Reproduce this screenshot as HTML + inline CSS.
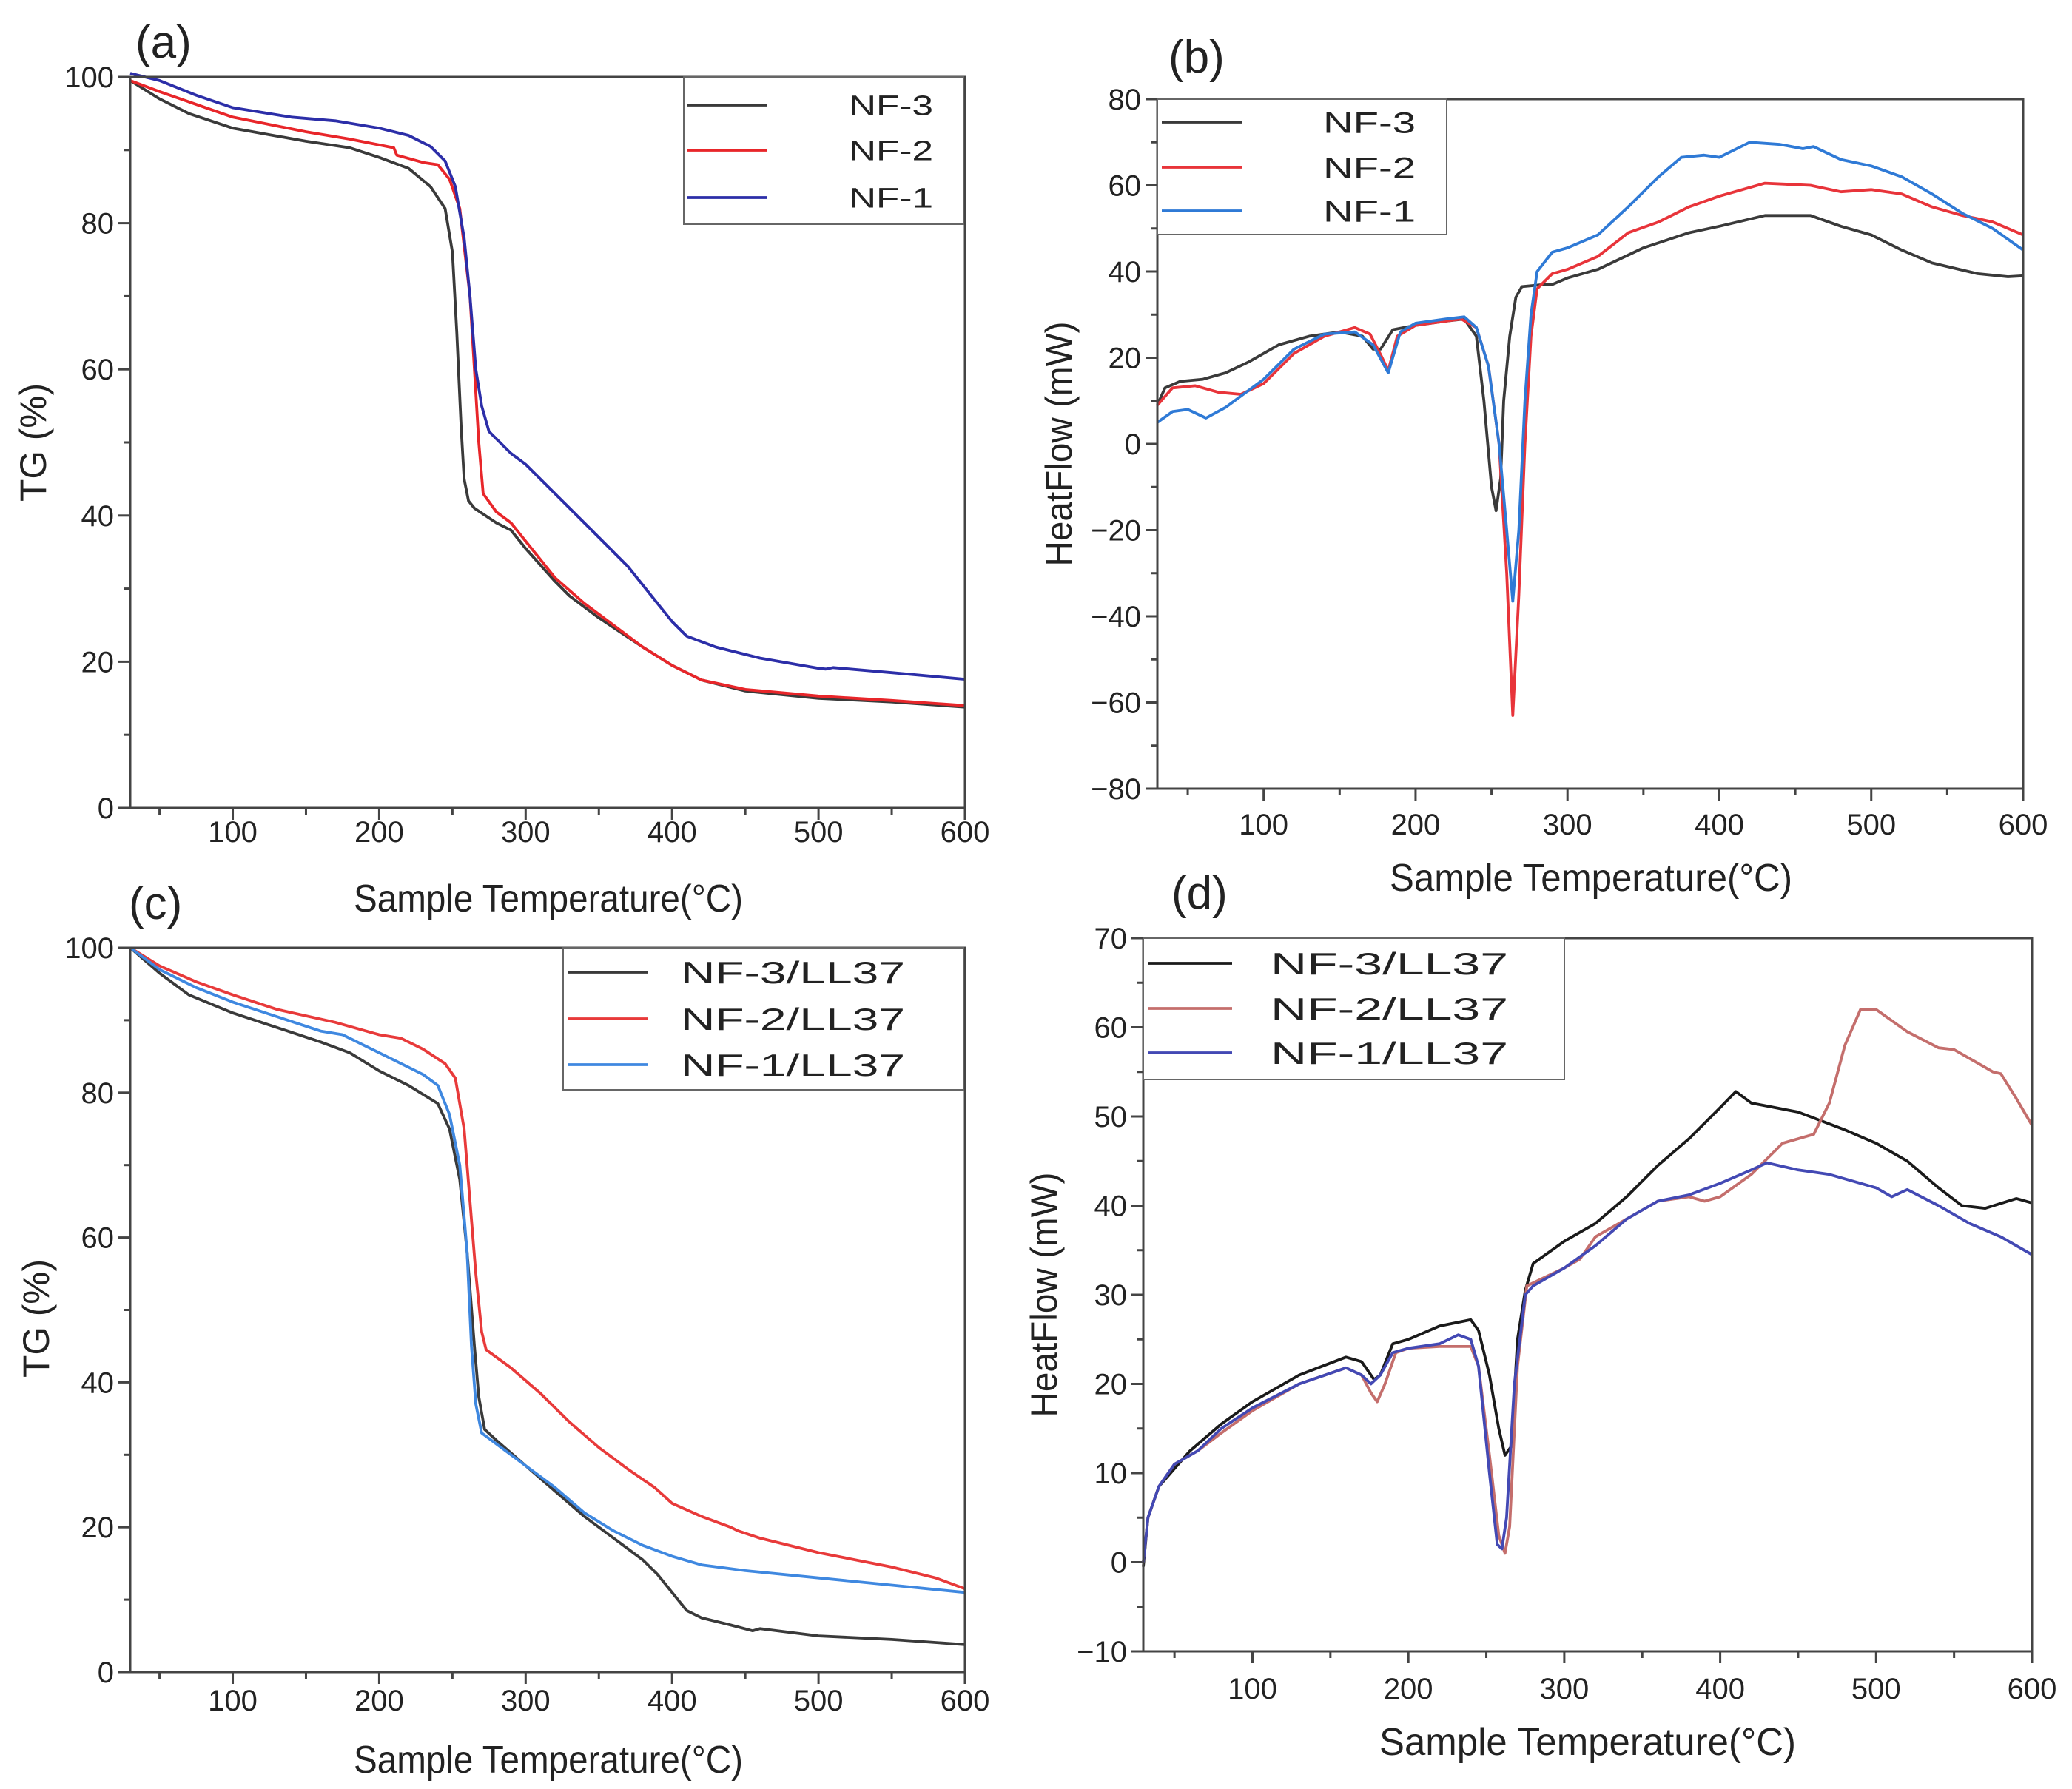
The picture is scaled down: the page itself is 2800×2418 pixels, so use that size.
<!DOCTYPE html>
<html><head><meta charset="utf-8"><style>
html,body{margin:0;padding:0;background:#fff;}
svg{display:block;}
text{font-family:"Liberation Sans",Arial,sans-serif;fill:#222;}
</style></head><body>
<svg id="fig" width="2800" height="2418" viewBox="0 0 2800 2418" xmlns="http://www.w3.org/2000/svg"></svg>
<script>
// ---------- data: panel (a) TG ----------
const a_nf3 = [[30,99.5],[50,97],[70,95],[100,93],[150,91.2],[180,90.3],[200,89],[220,87.5],[235,85],[245,82],[250,76],[253,65],[256,52],[258,45],[261,42],[265,41],[280,39],[290,38],[300,35.5],[320,31],[330,29],[350,26],[380,22],[400,19.5],[420,17.5],[450,16],[500,15],[550,14.5],[600,13.8]];
const a_nf2 = [[30,99.5],[50,98],[100,94.5],[150,92.5],[180,91.5],[210,90.3],[212,89.3],[230,88.3],[240,88],[248,86],[255,82],[262,70],[265,60],[268,50],[271,43],[280,40.5],[290,39],[300,36.5],[310,34],[320,31.5],[340,28],[360,25],[380,22],[400,19.5],[420,17.5],[450,16.2],[500,15.3],[550,14.7],[600,14]];
const a_nf1 = [[30,100.5],[50,99.5],[75,97.5],[100,95.8],[140,94.5],[170,94],[200,93],[220,92],[235,90.5],[245,88.5],[252,85],[258,78],[262,70],[266,60],[270,55],[275,51.5],[290,48.5],[300,47],[310,45],[330,41],[350,37],[370,33],[390,28],[400,25.5],[410,23.5],[430,22],[460,20.5],[500,19.1],[505,19],[510,19.2],[550,18.5],[600,17.6]];
// ---------- data: panel (b) DSC ----------
const b_nf3 = [[30,9],[35,13],[45,14.5],[60,15],[75,16.5],[90,19],[110,23],[130,25],[150,26],[165,25],[172,22],[177,22],[185,26.5],[200,27.5],[220,28.5],[232,29],[240,25],[245,10],[250,-10],[253,-15.5],[256,-8],[258,10],[262,25],[266,34],[270,36.5],[285,37],[290,37],[300,38.5],[320,40.5],[350,45.5],[380,49],[400,50.5],[430,53],[460,53],[480,50.5],[500,48.5],[520,45],[540,42],[570,39.5],[590,38.8],[600,39]];
const b_nf2 = [[30,9],[40,13],[55,13.5],[70,12],[85,11.5],[100,14],[120,21],[140,25],[160,27],[170,25.5],[178,20],[182,17],[188,25],[200,27.5],[220,28.5],[230,29],[240,27],[248,18],[255,0],[260,-30],[264,-63],[268,-35],[272,0],[276,25],[280,36],[290,39.5],[300,40.5],[320,43.5],[340,49],[360,51.5],[380,55],[400,57.5],[430,60.5],[460,60],[480,58.5],[500,59],[520,58],[540,55],[560,53],[580,51.5],[600,48.5]];
const b_nf1 = [[30,5],[40,7.5],[50,8],[62,6],[75,8.5],[100,15],[120,22],[140,25.5],[160,26],[172,23],[182,16.5],[190,26],[200,28],[220,29],[232,29.5],[240,27],[248,18],[255,0],[260,-20],[264,-36.5],[268,-20],[272,10],[276,30],[280,40],[290,44.5],[300,45.5],[320,48.5],[340,55],[360,62],[375,66.5],[390,67],[400,66.5],[420,70],[440,69.5],[455,68.5],[462,69],[480,66],[500,64.5],[520,62],[540,58],[560,53.5],[580,50],[600,45]];
// ---------- data: panel (c) TG with LL37 ----------
const c_nf3 = [[30,100],[50,96.5],[70,93.5],[100,91],[130,89],[160,87],[180,85.5],[200,83],[220,81],[240,78.5],[248,75],[255,68],[260,58],[265,45],[268,38],[272,33.5],[280,32],[300,28.5],[320,25],[340,21.5],[360,18.5],[380,15.5],[390,13.5],[400,11],[410,8.5],[420,7.5],[440,6.5],[455,5.7],[460,6],[500,5],[550,4.5],[600,3.8]];
const c_nf2 = [[30,100],[50,97.5],[75,95.3],[100,93.5],[130,91.5],[170,89.7],[200,88],[215,87.5],[230,86],[245,84],[252,82],[258,75],[262,65],[266,55],[270,47],[273,44.5],[290,42],[310,38.5],[330,34.5],[350,31],[370,28],[388,25.5],[400,23.3],[420,21.5],[440,20],[445,19.5],[460,18.5],[500,16.5],[550,14.5],[580,13],[600,11.5]];
const c_nf1 = [[30,100],[50,97],[75,94.5],[100,92.5],[130,90.5],[160,88.5],[175,88],[190,86.5],[210,84.5],[230,82.5],[240,81],[248,77],[255,70],[260,58],[263,45],[266,37],[270,33],[280,31.5],[300,28.5],[320,25.5],[340,22],[360,19.5],[380,17.5],[400,16],[420,14.8],[450,14],[500,13],[550,12],[600,11]];
// ---------- data: panel (d) DSC with LL37 ----------
const d_nf3 = [[30,-0.5],[33,5],[40,8.5],[50,10.5],[60,12.5],[80,15.5],[100,18],[130,21],[160,23],[170,22.5],[178,20.5],[182,21],[190,24.5],[200,25],[220,26.5],[240,27.2],[245,26],[252,21],[258,15],[262,12],[266,13],[270,25],[275,30.5],[280,33.5],[300,36],[320,38],[340,41],[360,44.5],[380,47.5],[400,51],[410,52.8],[420,51.5],[450,50.5],[480,48.5],[500,47],[520,45],[540,42],[555,40],[570,39.7],[590,40.8],[600,40.3]];
const d_nf2 = [[30,0],[33,5],[40,8.5],[50,11],[65,12.5],[80,14.5],[100,17],[130,20],[160,21.8],[170,21],[176,19],[180,18],[185,20],[192,23.5],[200,24],[220,24.2],[240,24.2],[245,22],[252,12],[258,3],[262,1],[265,4],[270,22],[276,31],[300,33],[310,34],[320,36.5],[335,38],[360,40.5],[380,41],[390,40.5],[400,41],[420,43.5],[440,47],[460,48],[470,51.5],[480,58],[490,62],[500,62],[520,59.5],[540,57.7],[550,57.5],[560,56.5],[575,55],[580,54.8],[590,52],[600,49]];
const d_nf1 = [[30,0],[33,5],[40,8.5],[50,11],[65,12.5],[80,15],[100,17.3],[130,20],[160,21.8],[170,21],[176,20],[182,21],[190,23.5],[200,24],[220,24.5],[232,25.5],[240,25],[245,22],[252,10],[257,2],[260,1.5],[263,5],[268,20],[275,30],[280,31],[300,33],[320,35.5],[340,38.5],[360,40.5],[380,41.2],[400,42.5],[420,44],[430,44.8],[450,44],[470,43.5],[500,42],[510,41],[520,41.8],[540,40],[560,38],[580,36.5],[600,34.5]];
// tick labels
const xTicks = [100,200,300,400,500,600];
const tgTicks = [0,20,40,60,80,100];
const bTicks = [-80,-60,-40,-20,0,20,40,60,80];
const dTicks = [-10,0,10,20,30,40,50,60,70];
const aNames = ["NF-3","NF-2","NF-1"];
const cNames = ["NF-3/LL37","NF-2/LL37","NF-1/LL37"];

const NS="http://www.w3.org/2000/svg";
const svg=document.getElementById('fig');
function mk(tag,attrs,parent){const e=document.createElementNS(NS,tag);for(const k in attrs)e.setAttribute(k,attrs[k]);(parent||svg).appendChild(e);return e;}

function panel(p){
  const g=mk('g',{});
  
  
  const X=v=>p.L+(v-30)/(600-30)*(p.R-p.L);
  const Y=v=>p.B-(v-p.ymin)/(p.ymax-p.ymin)*(p.B-p.T);
  for(let v=50;v<=600;v+=50){
    const major=v%100===0;
    const t=mk('line',{x1:X(v),x2:X(v),y1:p.B,y2:p.B+(major?16:9),stroke:'#444','stroke-width':3},g);
    
    
  }
  xTicks.forEach(v=>{
    const t=mk('text',{x:X(v),y:p.xlabY,'text-anchor':'middle','font-size':40},g);
    t.textContent=v;
    
    
  });
  const step=p.yt[1]-p.yt[0];
  for(let v=p.ymin;v<=p.ymax+1e-9;v+=step/2){
    const major=Math.abs(((v-p.ymin)/step)-Math.round((v-p.ymin)/step))<1e-6;
    const t=mk('line',{x1:p.L-(major?16:9),x2:p.L,y1:Y(v),y2:Y(v),stroke:'#444','stroke-width':3},g);
    
    
  }
  p.yt.forEach(v=>{
    const t=mk('text',{x:p.L-22,y:Y(v)+14,'text-anchor':'end','font-size':40},g);
    t.textContent=(v<0?'\u2212'+(-v):v);
    
    
  });
  p.series.forEach((s,i)=>{
    const d=s.data.map((q,j)=>(j?'L':'M')+X(q[0]).toFixed(1)+','+Y(q[1]).toFixed(1)).join(' ');
    const pa=mk('path',{d:d,fill:'none',stroke:s.color,'stroke-width':3.8,'stroke-linejoin':'round'},g);
    
    
  });
  const fr=mk('rect',{x:p.L,y:p.T,width:p.R-p.L,height:p.B-p.T,fill:'none',stroke:'#444','stroke-width':3},g);
  
  
  const lg=mk('g',{},g);
  
  
  mk('rect',{x:p.lg.x1,y:p.lg.y1,width:p.lg.x2-p.lg.x1,height:p.lg.y2-p.lg.y1,fill:'#fff',stroke:'#666','stroke-width':2},lg);
  p.series.forEach((s,i)=>{
    const yy=p.lg.ys[i];
    const ln=mk('line',{x1:p.lg.lx1,x2:p.lg.lx2,y1:yy,y2:yy,stroke:s.color,'stroke-width':3.8},lg);
    
    
    const t=mk('text',{x:p.lg.tx,y:yy+p.lg.fs*0.36,'font-size':p.lg.fs,textLength:p.lg.tw,lengthAdjust:'spacingAndGlyphs'},lg);
    t.textContent=s.name;
    
    
  });
  const xt=mk('text',{x:p.xt.x,y:p.xt.y,'font-size':52,textLength:p.xt.w,lengthAdjust:'spacingAndGlyphs'},g);
  xt.textContent='Sample Temperature(\u00B0C)';
  
  
  const yt=mk('text',{x:0,y:0,'font-size':50,'text-anchor':'middle',textLength:p.yt2.w,lengthAdjust:'spacingAndGlyphs',transform:`translate(${p.yt2.x},${p.yt2.y}) rotate(-90)`},g);
  yt.textContent=p.ytitle;
  
  
  const pl=mk('text',{x:p.pl.x,y:p.pl.y,'font-size':62},g);
  pl.textContent='('+p.id+')';
  
  
}

panel({id:'a',L:176,R:1304,T:104,B:1092,ymin:0,ymax:100,yt:tgTicks,xlabY:1138,
  series:[{name:aNames[0],color:'#3a3a3a',data:a_nf3},{name:aNames[1],color:'#e8262a',data:a_nf2},{name:aNames[2],color:'#2c2ea8',data:a_nf1}],
  lg:{x1:924,x2:1302,y1:104,y2:303,ys:[142,203,267],lx1:929,lx2:1036,tx:1147,tw:114,fs:38},
  xt:{x:478,y:1232,w:526},yt2:{x:62,y:598,w:160},ytitle:'TG (%)',pl:{x:183,y:78}});
panel({id:'b',L:1564,R:2734,T:134,B:1066,ymin:-80,ymax:80,yt:bTicks,xlabY:1128,
  series:[{name:aNames[0],color:'#3a3a3a',data:b_nf3},{name:aNames[1],color:'#e8343a',data:b_nf2},{name:aNames[2],color:'#2f7ad6',data:b_nf1}],
  lg:{x1:1564,x2:1955,y1:134,y2:317,ys:[165,226,285],lx1:1570,lx2:1679,tx:1788,tw:125,fs:40},
  xt:{x:1878,y:1204,w:544},yt2:{x:1448,y:600,w:331},ytitle:'HeatFlow (mW)',pl:{x:1579,y:98}});
panel({id:'c',L:176,R:1304,T:1281,B:2260,ymin:0,ymax:100,yt:tgTicks,xlabY:2312,
  series:[{name:cNames[0],color:'#3a3a3a',data:c_nf3},{name:cNames[1],color:'#e83a3a',data:c_nf2},{name:cNames[2],color:'#3f88e0',data:c_nf1}],
  lg:{x1:761,x2:1302,y1:1281,y2:1473,ys:[1314,1377,1439],lx1:768,lx2:875,tx:920,tw:303,fs:42},
  xt:{x:478,y:2396,w:526},yt2:{x:66,y:1782,w:160},ytitle:'TG (%)',pl:{x:174,y:1242}});
panel({id:'d',L:1545,R:2746,T:1268,B:2232,ymin:-10,ymax:70,yt:dTicks,xlabY:2296,
  series:[{name:cNames[0],color:'#1a1a1a',data:d_nf3},{name:cNames[1],color:'#c46e6c',data:d_nf2},{name:cNames[2],color:'#4349b4',data:d_nf1}],
  lg:{x1:1545,x2:2114,y1:1268,y2:1459,ys:[1302,1363,1423],lx1:1552,lx2:1665,tx:1717,tw:321,fs:42},
  xt:{x:1864,y:2372,w:563},yt2:{x:1428,y:1750,w:331},ytitle:'HeatFlow (mW)',pl:{x:1583,y:1228}});
</script>
</body></html>
